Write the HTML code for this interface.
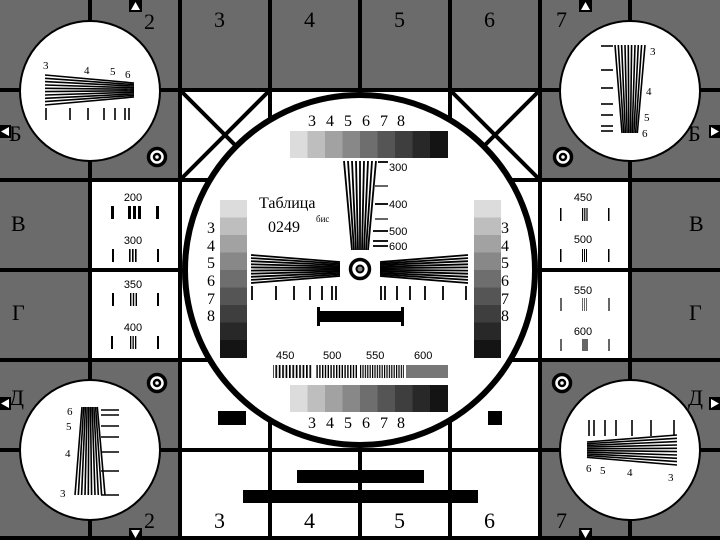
<!DOCTYPE html>
<html><head><meta charset="utf-8"><style>html,body{margin:0;padding:0;background:#6b6b6b}svg{display:block}</style></head><body>
<svg width="720" height="540" viewBox="0 0 720 540" xmlns="http://www.w3.org/2000/svg" font-family="'Liberation Serif', serif">
<rect width="720" height="540" fill="#6b6b6b"/>
<g fill="#fff">
<rect x="180" y="90" width="360" height="360"/>
<rect x="90" y="180" width="90" height="180"/>
<rect x="540" y="180" width="90" height="180"/>
<rect x="180" y="450" width="360" height="90"/>
</g>
<g stroke="#000" stroke-width="4">
<line x1="90" y1="0" x2="90" y2="540"/><line x1="180" y1="0" x2="180" y2="540"/><line x1="270" y1="0" x2="270" y2="540"/><line x1="360" y1="0" x2="360" y2="540"/><line x1="450" y1="0" x2="450" y2="540"/><line x1="540" y1="0" x2="540" y2="540"/><line x1="630" y1="0" x2="630" y2="540"/>
<line x1="0" y1="90" x2="720" y2="90"/><line x1="0" y1="180" x2="720" y2="180"/><line x1="0" y1="270" x2="720" y2="270"/><line x1="0" y1="360" x2="720" y2="360"/><line x1="0" y1="450" x2="720" y2="450"/><line x1="0" y1="538" x2="720" y2="538"/>
<line x1="180" y1="90" x2="270" y2="180"/><line x1="270" y1="90" x2="180" y2="180"/>
<line x1="450" y1="90" x2="540" y2="180"/><line x1="540" y1="90" x2="450" y2="180"/>
</g>
<!-- corner circles -->
<g fill="#fff" stroke="#000" stroke-width="2">
<circle cx="90" cy="91" r="70"/><circle cx="630" cy="91" r="70"/><circle cx="90" cy="450" r="70"/><circle cx="630" cy="450" r="70"/>
</g>
<!-- small targets -->
<g fill="#fff" stroke="#000">
<circle cx="157" cy="157" r="8.5" stroke-width="3.5"/><circle cx="157" cy="157" r="3" stroke-width="2.5"/>
<circle cx="563" cy="157" r="8.5" stroke-width="3.5"/><circle cx="563" cy="157" r="3" stroke-width="2.5"/>
<circle cx="157" cy="383" r="8.5" stroke-width="3.5"/><circle cx="157" cy="383" r="3" stroke-width="2.5"/>
<circle cx="562" cy="383" r="8.5" stroke-width="3.5"/><circle cx="562" cy="383" r="3" stroke-width="2.5"/>
</g>
<!-- big circle -->
<circle cx="360" cy="270" r="175" fill="#fff" stroke="#000" stroke-width="6"/>
<!-- TL wedge -->
<g stroke="#000" stroke-width="1.6">
<line x1="45" y1="75" x2="134" y2="83"/><line x1="45" y1="78.3" x2="134" y2="84.6"/><line x1="45" y1="81.6" x2="134" y2="86.1"/><line x1="45" y1="85" x2="134" y2="87.7"/><line x1="45" y1="88.3" x2="134" y2="89.2"/><line x1="45" y1="91.6" x2="134" y2="90.8"/><line x1="45" y1="95" x2="134" y2="92.3"/><line x1="45" y1="98.3" x2="134" y2="93.9"/><line x1="45" y1="101.6" x2="134" y2="95.4"/><line x1="45" y1="105" x2="134" y2="97"/>
<line x1="46" y1="108" x2="46" y2="120"/><line x1="70" y1="108" x2="70" y2="120"/><line x1="88" y1="108" x2="88" y2="120"/><line x1="104" y1="108" x2="104" y2="120"/><line x1="115" y1="108" x2="115" y2="120"/><line x1="125" y1="108" x2="125" y2="120"/><line x1="129" y1="108" x2="129" y2="120"/>
</g>
<g font-size="11"><text x="43" y="69">3</text><text x="84" y="74">4</text><text x="110" y="75">5</text><text x="125" y="78">6</text></g>
<!-- TR wedge -->
<g stroke="#000" stroke-width="1.6">
<line x1="615" y1="45" x2="622" y2="133"/><line x1="618.3" y1="45" x2="623.7" y2="133"/><line x1="621.6" y1="45" x2="625.4" y2="133"/><line x1="625" y1="45" x2="627.1" y2="133"/><line x1="628.3" y1="45" x2="628.8" y2="133"/><line x1="631.6" y1="45" x2="630.5" y2="133"/><line x1="635" y1="45" x2="632.2" y2="133"/><line x1="638.3" y1="45" x2="633.9" y2="133"/><line x1="641.6" y1="45" x2="635.6" y2="133"/><line x1="645" y1="45" x2="637.3" y2="133"/>
<line x1="601" y1="46" x2="613" y2="46"/><line x1="601" y1="70" x2="613" y2="70"/><line x1="601" y1="88" x2="613" y2="88"/><line x1="601" y1="104" x2="613" y2="104"/><line x1="601" y1="115" x2="613" y2="115"/><line x1="601" y1="126" x2="613" y2="126"/><line x1="601" y1="131" x2="613" y2="131"/>
</g>
<g font-size="11"><text x="650" y="55">3</text><text x="646" y="95">4</text><text x="644" y="121">5</text><text x="642" y="137">6</text></g>
<!-- BL wedge -->
<g stroke="#000" stroke-width="1.6">
<line x1="82" y1="407" x2="75" y2="495"/><line x1="83.7" y1="407" x2="78.3" y2="495"/><line x1="85.4" y1="407" x2="81.6" y2="495"/><line x1="87.1" y1="407" x2="85" y2="495"/><line x1="88.8" y1="407" x2="88.3" y2="495"/><line x1="90.5" y1="407" x2="91.6" y2="495"/><line x1="92.2" y1="407" x2="95" y2="495"/><line x1="93.9" y1="407" x2="98.3" y2="495"/><line x1="95.6" y1="407" x2="101.6" y2="495"/><line x1="97.3" y1="407" x2="105" y2="495"/>
<line x1="101" y1="410" x2="119" y2="410"/><line x1="101" y1="415" x2="119" y2="415"/><line x1="101" y1="426" x2="119" y2="426"/><line x1="101" y1="437" x2="119" y2="437"/><line x1="101" y1="452" x2="119" y2="452"/><line x1="101" y1="471" x2="119" y2="471"/><line x1="101" y1="495" x2="119" y2="495"/>
</g>
<g font-size="11"><text x="67" y="415">6</text><text x="66" y="430">5</text><text x="65" y="457">4</text><text x="60" y="497">3</text></g>
<!-- BR wedge -->
<g stroke="#000" stroke-width="1.6">
<line x1="587" y1="442" x2="677" y2="435"/><line x1="587" y1="443.7" x2="677" y2="438.3"/><line x1="587" y1="445.4" x2="677" y2="441.6"/><line x1="587" y1="447.1" x2="677" y2="445"/><line x1="587" y1="448.8" x2="677" y2="448.3"/><line x1="587" y1="450.5" x2="677" y2="451.6"/><line x1="587" y1="452.2" x2="677" y2="455"/><line x1="587" y1="453.9" x2="677" y2="458.3"/><line x1="587" y1="455.6" x2="677" y2="461.6"/><line x1="587" y1="457.3" x2="677" y2="465"/>
<line x1="589" y1="420" x2="589" y2="436"/><line x1="594" y1="420" x2="594" y2="436"/><line x1="605" y1="420" x2="605" y2="436"/><line x1="616" y1="420" x2="616" y2="436"/><line x1="632" y1="420" x2="632" y2="436"/><line x1="651" y1="420" x2="651" y2="436"/><line x1="674" y1="420" x2="674" y2="436"/>
</g>
<g font-size="11"><text x="586" y="472">6</text><text x="600" y="474">5</text><text x="627" y="476">4</text><text x="668" y="481">3</text></g>
<!-- side cells -->
<g font-family="'Liberation Sans', sans-serif" font-size="11" text-anchor="middle">
<text x="133" y="201">200</text><text x="133" y="244">300</text><text x="133" y="288">350</text><text x="133" y="331">400</text>
<text x="583" y="201">450</text><text x="583" y="243">500</text><text x="583" y="294">550</text><text x="583" y="335">600</text>
</g>
<g fill="#000">
<rect x="111" y="206" width="3" height="13"/><rect x="128" y="206" width="3" height="13"/><rect x="133" y="206" width="3" height="13"/><rect x="138" y="206" width="3" height="13"/><rect x="156" y="206" width="3" height="13"/>
<rect x="112" y="249" width="2" height="13"/><rect x="129" y="249" width="1.6" height="13"/><rect x="132" y="249" width="1.6" height="13"/><rect x="135" y="249" width="1.6" height="13"/><rect x="157" y="249" width="2" height="13"/>
<rect x="112" y="293" width="2" height="13"/><rect x="130" y="293" width="1.4" height="13"/><rect x="132.8" y="293" width="1.4" height="13"/><rect x="135.6" y="293" width="1.4" height="13"/><rect x="157" y="293" width="2" height="13"/>
<rect x="111" y="336" width="2" height="13"/><rect x="130" y="336" width="1.3" height="13"/><rect x="132.5" y="336" width="1.3" height="13"/><rect x="135" y="336" width="1.3" height="13"/><rect x="157" y="336" width="2" height="13"/>
<rect x="560" y="208" width="1.5" height="13"/><rect x="582" y="208" width="1.2" height="13"/><rect x="584.2" y="208" width="1.2" height="13"/><rect x="586.4" y="208" width="1.2" height="13"/><rect x="608" y="208" width="1.5" height="13"/>
<rect x="560" y="249" width="1.5" height="13"/><rect x="582" y="249" width="1" height="13"/><rect x="584" y="249" width="1" height="13"/><rect x="586" y="249" width="1" height="13"/><rect x="608" y="249" width="1.5" height="13"/>
</g>
<g fill="#666">
<rect x="560" y="298" width="2" height="13"/><rect x="582" y="298" width="1" height="13"/><rect x="584" y="298" width="1" height="13"/><rect x="586" y="298" width="1" height="13"/><rect x="608" y="298" width="2" height="13"/>
<rect x="560" y="339" width="2" height="12"/><rect x="582" y="339" width="6" height="12"/><rect x="608" y="339" width="2" height="12"/>
</g>
<!-- letters and numbers -->
<g font-size="22" fill="#000">
<text x="11" y="231">В</text><text x="689" y="231">В</text>
<text x="12" y="320">Г</text><text x="689" y="320">Г</text>
<text x="9" y="141">Б</text><text x="688" y="141">Б</text>
<text x="9" y="405">Д</text><text x="688" y="405">Д</text>
<text x="144" y="29">2</text><text x="214" y="27">3</text><text x="304" y="27">4</text><text x="394" y="27">5</text><text x="484" y="27">6</text><text x="556" y="27">7</text>
<text x="144" y="528">2</text><text x="214" y="528">3</text><text x="304" y="528">4</text><text x="394" y="528">5</text><text x="484" y="528">6</text><text x="556" y="528">7</text>
</g>
<!-- triangles -->
<g>
<rect x="129" y="0" width="13" height="12" fill="#000"/><polygon points="135.5,2 131,10 140,10" fill="#fff"/>
<rect x="579" y="0" width="13" height="12" fill="#000"/><polygon points="585.5,2 581,10 590,10" fill="#fff"/>
<rect x="129" y="528" width="13" height="12" fill="#000"/><polygon points="135.5,538 131,530 140,530" fill="#fff"/>
<rect x="579" y="528" width="13" height="12" fill="#000"/><polygon points="585.5,538 581,530 590,530" fill="#fff"/>
<rect x="0" y="125" width="11" height="13" fill="#000"/><polygon points="1,131.5 9,127 9,136" fill="#fff"/>
<rect x="709" y="125" width="11" height="13" fill="#000"/><polygon points="719,131.5 711,127 711,136" fill="#fff"/>
<rect x="0" y="397" width="11" height="13" fill="#000"/><polygon points="1,403.5 9,399 9,408" fill="#fff"/>
<rect x="709" y="397" width="11" height="13" fill="#000"/><polygon points="719,403.5 711,399 711,408" fill="#fff"/>
</g>
<!-- grayscales -->
<g>
<rect x="290" y="131" width="18" height="27" fill="#dcdcdc"/><rect x="307.5" y="131" width="18" height="27" fill="#bebebe"/><rect x="325" y="131" width="18" height="27" fill="#a2a2a2"/><rect x="342.5" y="131" width="18" height="27" fill="#888"/><rect x="360" y="131" width="18" height="27" fill="#6e6e6e"/><rect x="377.5" y="131" width="18" height="27" fill="#555"/><rect x="395" y="131" width="18" height="27" fill="#3e3e3e"/><rect x="412.5" y="131" width="18" height="27" fill="#282828"/><rect x="430" y="131" width="18" height="27" fill="#141414"/>
<rect x="290" y="385" width="18" height="27" fill="#dcdcdc"/><rect x="307.5" y="385" width="18" height="27" fill="#bebebe"/><rect x="325" y="385" width="18" height="27" fill="#a2a2a2"/><rect x="342.5" y="385" width="18" height="27" fill="#888"/><rect x="360" y="385" width="18" height="27" fill="#6e6e6e"/><rect x="377.5" y="385" width="18" height="27" fill="#555"/><rect x="395" y="385" width="18" height="27" fill="#3e3e3e"/><rect x="412.5" y="385" width="18" height="27" fill="#282828"/><rect x="430" y="385" width="18" height="27" fill="#141414"/>
<rect x="220" y="200" width="27" height="18" fill="#dcdcdc"/><rect x="220" y="217.5" width="27" height="18" fill="#bebebe"/><rect x="220" y="235" width="27" height="18" fill="#a2a2a2"/><rect x="220" y="252.5" width="27" height="18" fill="#888"/><rect x="220" y="270" width="27" height="18" fill="#6e6e6e"/><rect x="220" y="287.5" width="27" height="18" fill="#555"/><rect x="220" y="305" width="27" height="18" fill="#3e3e3e"/><rect x="220" y="322.5" width="27" height="18" fill="#282828"/><rect x="220" y="340" width="27" height="18" fill="#141414"/>
<rect x="474" y="200" width="27" height="18" fill="#dcdcdc"/><rect x="474" y="217.5" width="27" height="18" fill="#bebebe"/><rect x="474" y="235" width="27" height="18" fill="#a2a2a2"/><rect x="474" y="252.5" width="27" height="18" fill="#888"/><rect x="474" y="270" width="27" height="18" fill="#6e6e6e"/><rect x="474" y="287.5" width="27" height="18" fill="#555"/><rect x="474" y="305" width="27" height="18" fill="#3e3e3e"/><rect x="474" y="322.5" width="27" height="18" fill="#282828"/><rect x="474" y="340" width="27" height="18" fill="#141414"/>
</g>
<g font-size="16" fill="#000">
<text x="308" y="126">3</text><text x="326" y="126">4</text><text x="344" y="126">5</text><text x="362" y="126">6</text><text x="380" y="126">7</text><text x="397" y="126">8</text>
<text x="308" y="428">3</text><text x="326" y="428">4</text><text x="344" y="428">5</text><text x="362" y="428">6</text><text x="380" y="428">7</text><text x="397" y="428">8</text>
<text x="207" y="233">3</text><text x="207" y="251">4</text><text x="207" y="268">5</text><text x="207" y="286">6</text><text x="207" y="304">7</text><text x="207" y="321">8</text>
<text x="501" y="233">3</text><text x="501" y="251">4</text><text x="501" y="268">5</text><text x="501" y="286">6</text><text x="501" y="304">7</text><text x="501" y="321">8</text>
<text x="259" y="208">Таблица</text><text x="268" y="232">0249</text>
</g>
<text x="316" y="222" font-size="9">бис</text>
<!-- center vertical wedge -->
<g stroke="#000" stroke-width="1.8">
<line x1="344" y1="161" x2="352" y2="250"/><line x1="348" y1="161" x2="354" y2="250"/><line x1="352" y1="161" x2="356" y2="250"/><line x1="356" y1="161" x2="358" y2="250"/><line x1="360" y1="161" x2="360" y2="250"/><line x1="364" y1="161" x2="362" y2="250"/><line x1="368" y1="161" x2="364" y2="250"/><line x1="372" y1="161" x2="366" y2="250"/><line x1="376" y1="161" x2="368" y2="250"/>
<line x1="378" y1="162" x2="388" y2="162"/><line x1="375" y1="186" x2="388" y2="186" stroke="#555"/><line x1="375" y1="204" x2="388" y2="204"/><line x1="375" y1="219" x2="388" y2="219" stroke="#555"/><line x1="373" y1="231" x2="388" y2="231"/><line x1="373" y1="241" x2="388" y2="241"/><line x1="373" y1="246" x2="388" y2="246"/>
</g>
<g font-family="'Liberation Sans', sans-serif" font-size="11"><text x="389" y="171">300</text><text x="389" y="208">400</text><text x="389" y="235">500</text><text x="389" y="250">600</text></g>
<!-- horizontal wedges -->
<g stroke="#000" stroke-width="1.8">
<line x1="251" y1="255" x2="340" y2="262"/><line x1="251" y1="258.1" x2="340" y2="263.6"/><line x1="251" y1="261.2" x2="340" y2="265.1"/><line x1="251" y1="264.3" x2="340" y2="266.7"/><line x1="251" y1="267.4" x2="340" y2="268.2"/><line x1="251" y1="270.6" x2="340" y2="269.8"/><line x1="251" y1="273.7" x2="340" y2="271.3"/><line x1="251" y1="276.8" x2="340" y2="272.9"/><line x1="251" y1="279.9" x2="340" y2="274.4"/><line x1="251" y1="283" x2="340" y2="276"/>
<line x1="468" y1="255" x2="380" y2="262"/><line x1="468" y1="258.1" x2="380" y2="263.6"/><line x1="468" y1="261.2" x2="380" y2="265.1"/><line x1="468" y1="264.3" x2="380" y2="266.7"/><line x1="468" y1="267.4" x2="380" y2="268.2"/><line x1="468" y1="270.6" x2="380" y2="269.8"/><line x1="468" y1="273.7" x2="380" y2="271.3"/><line x1="468" y1="276.8" x2="380" y2="272.9"/><line x1="468" y1="279.9" x2="380" y2="274.4"/><line x1="468" y1="283" x2="380" y2="276"/>
<line x1="252" y1="286" x2="252" y2="300"/><line x1="276" y1="286" x2="276" y2="300"/><line x1="294" y1="286" x2="294" y2="300"/><line x1="310" y1="286" x2="310" y2="300"/><line x1="322" y1="286" x2="322" y2="300"/><line x1="332" y1="286" x2="332" y2="300"/><line x1="336" y1="286" x2="336" y2="300"/>
<line x1="381" y1="286" x2="381" y2="300"/><line x1="385" y1="286" x2="385" y2="300"/><line x1="397" y1="286" x2="397" y2="300"/><line x1="410" y1="286" x2="410" y2="300"/><line x1="425" y1="286" x2="425" y2="300"/><line x1="443" y1="286" x2="443" y2="300"/><line x1="466" y1="286" x2="466" y2="300"/>
</g>
<circle cx="360" cy="269" r="9.5" fill="#fff" stroke="#000" stroke-width="3.5"/><circle cx="360" cy="269" r="3.5" fill="#888" stroke="#000" stroke-width="2"/>
<!-- black bar -->
<rect x="318" y="311" width="85" height="11" fill="#000"/><rect x="317" y="307" width="3" height="19" fill="#000"/><rect x="401" y="307" width="3" height="19" fill="#000"/>
<!-- frequency bars -->
<g font-family="'Liberation Sans', sans-serif" font-size="11"><text x="276" y="359">450</text><text x="323" y="359">500</text><text x="366" y="359">550</text><text x="414" y="359">600</text></g>
<defs>
<pattern id="p1" width="3.4" height="20" patternUnits="userSpaceOnUse"><rect width="1.7" height="20" fill="#000"/></pattern>
<pattern id="p2" width="2.8" height="20" patternUnits="userSpaceOnUse"><rect width="1.4" height="20" fill="#000"/></pattern>
<pattern id="p3" width="2.4" height="20" patternUnits="userSpaceOnUse"><rect width="1.2" height="20" fill="#000"/></pattern>
</defs>
<rect x="273" y="365" width="39" height="13" fill="url(#p1)"/>
<rect x="316" y="365" width="41" height="13" fill="url(#p2)"/>
<rect x="360" y="365" width="44" height="13" fill="url(#p3)"/>
<rect x="406" y="365" width="42" height="13" fill="#777"/>
<!-- bottom rects -->
<rect x="218" y="411" width="28" height="14" fill="#000"/>
<rect x="488" y="411" width="14" height="14" fill="#000"/>
<rect x="297" y="470" width="127" height="13" fill="#000"/>
<rect x="243" y="490" width="235" height="13" fill="#000"/>
</svg>
</body></html>
